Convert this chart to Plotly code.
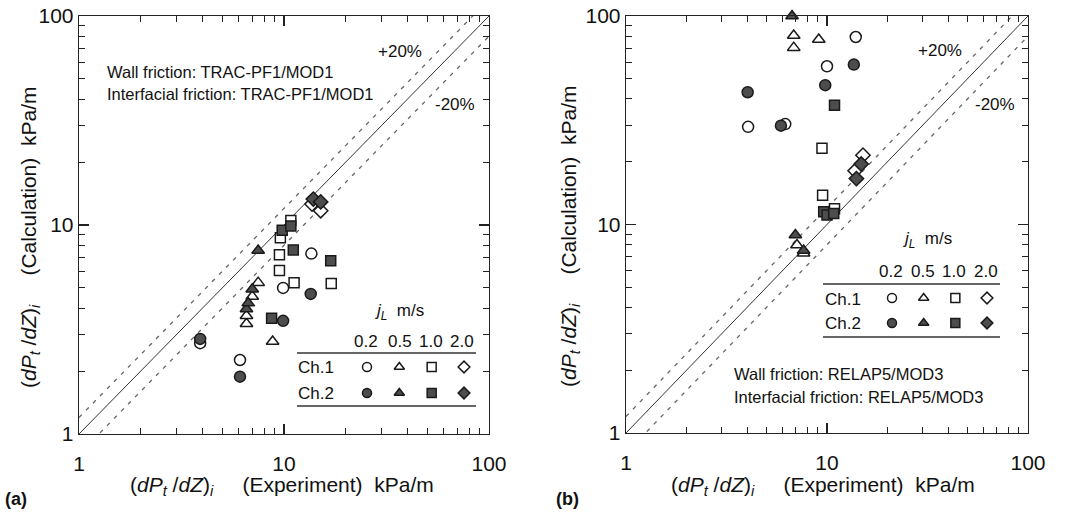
import plotly.graph_objects as go

# ---------------- data: panel (a) TRAC-PF1/MOD1 ----------------
a_ch1_j02_x = [3.9, 6.1, 9.9, 13.6]
a_ch1_j02_y = [2.72, 2.26, 5.0, 7.3]
a_ch2_j02_x = [3.9, 6.1, 9.9, 13.5]
a_ch2_j02_y = [2.85, 1.88, 3.48, 4.68]
a_ch1_j05_x = [6.56, 6.56, 7.0, 7.48, 8.8]
a_ch1_j05_y = [3.37, 3.68, 4.55, 5.3, 2.77]
a_ch2_j05_x = [6.56, 6.69, 7.0, 7.48]
a_ch2_j05_y = [3.96, 4.23, 4.93, 7.55]
a_ch1_j10_x = [9.6, 9.5, 9.5, 11.2, 17.0, 10.8]
a_ch1_j10_y = [8.7, 7.2, 6.05, 5.3, 5.25, 10.5]
a_ch2_j10_x = [9.8, 10.8, 11.1, 16.9, 8.7]
a_ch2_j10_y = [9.45, 9.9, 7.6, 6.75, 3.58]
a_ch1_j20_x = [13.7, 15.1]
a_ch1_j20_y = [12.6, 11.7]
a_ch2_j20_x = [13.9, 15.1]
a_ch2_j20_y = [13.3, 12.9]

# ---------------- data: panel (b) RELAP5/MOD3 ----------------
b_ch1_j02_x = [4.05, 6.2, 10.0, 13.9]
b_ch1_j02_y = [29.4, 30.3, 57.4, 79.3]
b_ch2_j02_x = [4.03, 5.9, 9.8, 13.6]
b_ch2_j02_y = [43.1, 29.8, 46.6, 58.5]
b_ch1_j05_x = [6.83, 6.83, 9.1, 7.09, 7.65]
b_ch1_j05_y = [80.7, 70.5, 77.1, 7.98, 7.28]
b_ch2_j05_x = [6.7, 6.96, 7.65]
b_ch2_j05_y = [100.0, 8.9, 7.5]
b_ch1_j10_x = [9.44, 9.51, 10.9]
b_ch1_j10_y = [23.2, 13.8, 11.9]
b_ch2_j10_x = [10.9, 9.63, 10.0, 10.8]
b_ch2_j10_y = [37.3, 11.5, 11.1, 11.3]
b_ch1_j20_x = [15.1, 13.8]
b_ch1_j20_y = [21.5, 18.1]
b_ch2_j20_x = [14.8, 14.0]
b_ch2_j20_y = [19.5, 16.6]

# reference lines (perfect agreement and +/-20 %)
ref_x = [1, 100]
ref_y = [1, 100]
plus20_y = [1.2, 120]
minus20_y = [0.8, 80]

# legend grid
leg_cols = ["0.2", "0.5", "1.0", "2.0"]
leg_rows = ["Ch.1", "Ch.2"]
symbols = ["circle", "triangle-up", "square", "diamond"]

W, H = 1070, 516
FONT = "Liberation Sans, Arial, sans-serif"
FILL = "#4d4d4d"
EDGE = "#1a1a1a"

def px(x):
    return x / W

def py(y):
    return 1 - y / H

fig = go.Figure()

panels = [
    dict(xa="x", ya="y",
         series=[(a_ch1_j02_x, a_ch1_j02_y, 0, False), (a_ch2_j02_x, a_ch2_j02_y, 0, True),
                 (a_ch1_j05_x, a_ch1_j05_y, 1, False), (a_ch2_j05_x, a_ch2_j05_y, 1, True),
                 (a_ch1_j10_x, a_ch1_j10_y, 2, False), (a_ch2_j10_x, a_ch2_j10_y, 2, True),
                 (a_ch1_j20_x, a_ch1_j20_y, 3, False), (a_ch2_j20_x, a_ch2_j20_y, 3, True)]),
    dict(xa="x2", ya="y2",
         series=[(b_ch1_j02_x, b_ch1_j02_y, 0, False), (b_ch2_j02_x, b_ch2_j02_y, 0, True),
                 (b_ch1_j05_x, b_ch1_j05_y, 1, False), (b_ch2_j05_x, b_ch2_j05_y, 1, True),
                 (b_ch1_j10_x, b_ch1_j10_y, 2, False), (b_ch2_j10_x, b_ch2_j10_y, 2, True),
                 (b_ch1_j20_x, b_ch1_j20_y, 3, False), (b_ch2_j20_x, b_ch2_j20_y, 3, True)]),
]

msize = {0: 11, 1: 11, 2: 10, 3: 11}
for p in panels:
    fig.add_trace(go.Scatter(x=ref_x, y=ref_y, mode="lines", xaxis=p["xa"], yaxis=p["ya"],
                             line=dict(color="#333", width=1), showlegend=False, hoverinfo="skip"))
    for yy in (plus20_y, minus20_y):
        fig.add_trace(go.Scatter(x=ref_x, y=yy, mode="lines", xaxis=p["xa"], yaxis=p["ya"],
                                 line=dict(color="#666", width=1.3, dash="4px,6px"),
                                 showlegend=False, hoverinfo="skip"))
    for xs, ys, k, filled in p["series"]:
        fig.add_trace(go.Scatter(
            x=xs, y=ys, mode="markers", xaxis=p["xa"], yaxis=p["ya"], showlegend=False,
            cliponaxis=False,
            marker=dict(symbol=symbols[k], size=msize[k], color=FILL if filled else "white",
                        line=dict(color=EDGE, width=1.5))))

# legend markers on small categorical axes
for xa, ya in (("x3", "y3"), ("x4", "y4")):
    for r, row in enumerate(leg_rows):
        for c, col in enumerate(leg_cols):
            fig.add_trace(go.Scatter(
                x=[col], y=[row], mode="markers", xaxis=xa, yaxis=ya, showlegend=False,
                cliponaxis=False,
                marker=dict(symbol=symbols[c], size=9, color=FILL if r == 1 else "white",
                            line=dict(color=EDGE, width=1.5))))

def log_axis(domain, anchor):
    return dict(
        type="log", range=[0, 2], domain=domain, anchor=anchor, automargin=False,
        showline=True, linecolor="#222", linewidth=1.3, mirror="ticks",
        ticks="inside", ticklen=10, tickwidth=1.2, tickcolor="#222",
        tickvals=[1, 10, 100], ticktext=["1", "10", "100"],
        minor=dict(ticks="inside", ticklen=6, tickwidth=1, tickcolor="#222",
                   tickvals=[2, 3, 4, 5, 6, 7, 8, 9, 20, 30, 40, 50, 60, 70, 80, 90]),
        showgrid=False, zeroline=False,
        tickfont=dict(family=FONT, size=21, color="#111"),
    )

xa1 = log_axis([px(79), px(489)], "y"); xa1["ticklabelstandoff"] = 10
ya1 = log_axis([py(434), py(16)], "x")
xa2 = log_axis([px(626), px(1028)], "y2"); xa2["ticklabelstandoff"] = 10
ya2 = log_axis([py(433), py(16)], "x2")

def leg_axes(x0, x1, y0, y1, ax, ay):
    xa = dict(domain=[px(x0), px(x1)], anchor=ay, type="category", categoryarray=leg_cols,
              range=[0, 3], visible=False, automargin=False)
    yax = dict(domain=[py(y1), py(y0)], anchor=ax, type="category", categoryarray=leg_rows,
               range=[1, 0], visible=False, automargin=False)
    return xa, yax

xa3, ya3 = leg_axes(367, 464, 367, 393, "x3", "y3")
xa4, ya4 = leg_axes(892, 987, 298, 323, "x4", "y4")

fig.update_layout(
    template="none",
    width=W, height=H, margin=dict(l=0, r=0, t=0, b=0, pad=0),
    paper_bgcolor="white", plot_bgcolor="rgba(0,0,0,0)",
    xaxis=xa1, yaxis=ya1, xaxis2=xa2, yaxis2=ya2,
    xaxis3=xa3, yaxis3=ya3, xaxis4=xa4, yaxis4=ya4,
    showlegend=False,
)

ann = []
def text(x, y, s, size=16, xanchor="center", **kw):
    ann.append(dict(x=px(x), y=py(y), xref="paper", yref="paper", text=s, showarrow=False,
                    xanchor=xanchor, yanchor="middle", borderpad=0,
                    font=dict(family=FONT, size=size, color="#111"), **kw))

NB = "\u00a0"
qty = "(<i>dP</i><sub><i>t</i></sub>" + NB + "/<i>dZ</i>)<sub><i>i</i></sub>"
xtitle = qty + NB * 5 + "(Experiment)" + NB * 2 + "kPa/m"
ytitle = qty + NB * 5 + "(Calculation)" + NB * 2 + "kPa/m"

# panel (a)
text(282, 486, xtitle, size=21)
text(30, 238, ytitle, size=21, textangle=-90)
text(106, 72, "Wall friction: TRAC-PF1/MOD1", size=16.5, xanchor="left")
text(106, 94, "Interfacial friction: TRAC-PF1/MOD1", size=16.5, xanchor="left")
text(400, 52, "+20%", size=17)
text(455, 104, "-20%", size=17)
text(399, 312, "<i>j</i><sub><i>L</i></sub>" + NB + NB + "m/s", size=17)
for c, xx in zip(leg_cols, [366, 400, 431, 462]):
    text(xx, 341, c, size=17)
text(316, 367, "Ch.1", size=17)
text(316, 393, "Ch.2", size=17)
text(4, 499, "<b>(a)</b>", size=18, xanchor="left")

# panel (b)
text(823, 486, xtitle, size=21)
text(570, 237, ytitle, size=21, textangle=-90)
text(733, 374, "Wall friction: RELAP5/MOD3", size=16.5, xanchor="left")
text(733, 397, "Interfacial friction: RELAP5/MOD3", size=16.5, xanchor="left")
text(940, 51, "+20%", size=17)
text(995, 104, "-20%", size=17)
text(927, 240, "<i>j</i><sub><i>L</i></sub>" + NB + NB + "m/s", size=17)
for c, xx in zip(leg_cols, [891, 923, 954, 986]):
    text(xx, 271, c, size=17)
text(843, 299, "Ch.1", size=17)
text(843, 323, "Ch.2", size=17)
text(555, 499, "<b>(b)</b>", size=18, xanchor="left")

fig.update_layout(annotations=ann)

shapes = []
for x0, x1, y in ((297, 476, 353), (297, 476, 406), (823, 1000, 284), (823, 1000, 337)):
    shapes.append(dict(type="line", xref="paper", yref="paper", x0=px(x0), x1=px(x1),
                       y0=py(y), y1=py(y), line=dict(color="#333", width=1.3)))
fig.update_layout(shapes=shapes)

fig.write_html("out.html", config={"displayModeBar": False, "staticPlot": True},
               post_script="document.body.style.margin='0';")
